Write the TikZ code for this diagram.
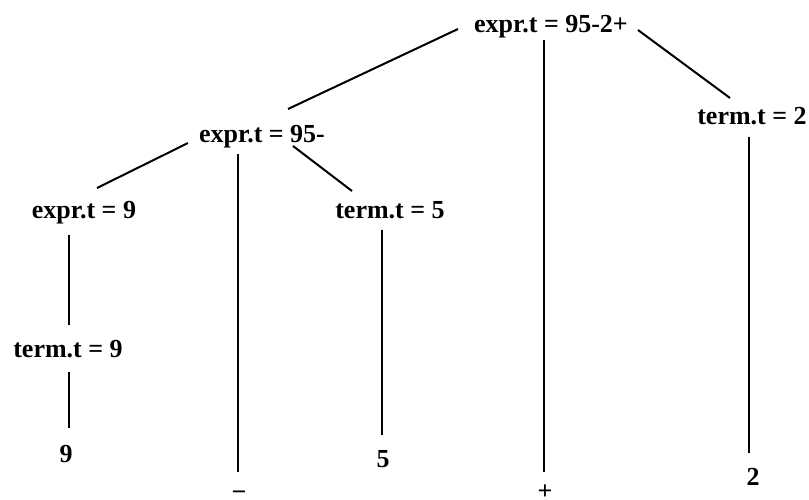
\documentclass[tikz,border=0pt]{standalone}
\usepackage{fontspec}
\setmainfont{Liberation Serif}
\usetikzlibrary{calc}
\begin{document}
\begin{tikzpicture}[x=1pt,y=-1pt,
  lbl/.style={inner sep=0pt,anchor=base,font=\fontsize{26}{30}\selectfont\bfseries},
  edge/.style={line width=2pt,line cap=butt}]
\useasboundingbox (0,0) rectangle (809,499);
% nodes (base positions)
\node[lbl] (top) at (551,32) {expr.t = 95-2+};
\node[lbl] (e95) at (262,142) {expr.t = 95-};
\node[lbl] (t2) at (752,124) {term.t = 2};
\node[lbl] (e9) at (84,218) {expr.t = 9};
\node[lbl] (t5) at (390,218) {term.t = 5};
\node[lbl] (t9) at (68,357) {term.t = 9};
\node[lbl] (n9) at (66,462) {9};
\node[lbl] (n5) at (383,467) {5};
\node[lbl] (n2) at (753,485) {2};
\node[lbl] (minus) at (239,500) {−};
\node[lbl] (plus) at (545,499) {+};
% connectors
\draw[edge] ($(top.base)+(-93,-3)$) -- ($(e95.base)+(26,-33)$);
\draw[edge] ($(top.base)+(-7,8)$) -- ($(plus.base)+(-1,-27)$);
\draw[edge] ($(top.base)+(87,-2)$) -- ($(t2.base)+(-22,-26)$);
\draw[edge] ($(e95.base)+(-74,1)$) -- ($(e9.base)+(13,-30)$);
\draw[edge] ($(e95.base)+(-24,12)$) -- ($(minus.base)+(-1,-28)$);
\draw[edge] ($(e95.base)+(31,4)$) -- ($(t5.base)+(-38,-27)$);
\draw[edge] ($(e9.base)+(-15,17)$) -- ($(t9.base)+(1,-32)$);
\draw[edge] ($(t9.base)+(1,15)$) -- ($(n9.base)+(3,-34)$);
\draw[edge] ($(t5.base)+(-8,12)$) -- ($(n5.base)+(-1,-32)$);
\draw[edge] ($(t2.base)+(-3,13)$) -- ($(n2.base)+(-4,-32)$);
\end{tikzpicture}
\end{document}
